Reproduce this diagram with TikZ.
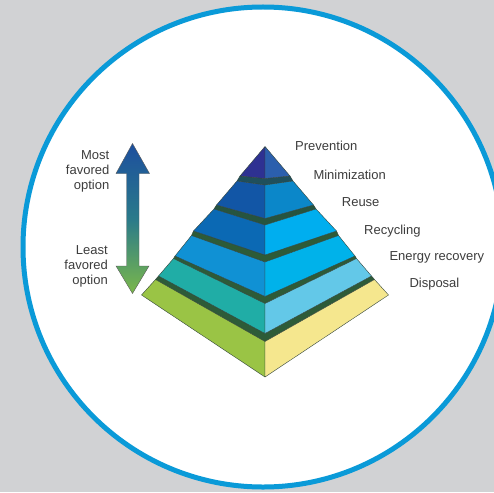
\documentclass[tikz,border=0pt]{standalone}
\usepackage{fontspec}
\setmainfont{Liberation Sans}
\definecolor{bggray}{HTML}{D1D2D4}
\definecolor{ringblue}{HTML}{0A9AD8}
\definecolor{txt}{HTML}{3D3D3D}
\definecolor{edge}{HTML}{34463C}
\definecolor{bandA}{HTML}{1F4F5C}
\definecolor{bandB}{HTML}{26543F}
\definecolor{bandC}{HTML}{2D5B38}
\definecolor{laL}{HTML}{2E3192}
\definecolor{laR}{HTML}{2B5FAD}
\definecolor{lbL}{HTML}{1256A6}
\definecolor{lbR}{HTML}{0B87C9}
\definecolor{lcL}{HTML}{0B69B4}
\definecolor{lcR}{HTML}{00AEEF}
\definecolor{ldL}{HTML}{1091D4}
\definecolor{ldR}{HTML}{00B2EA}
\definecolor{leL}{HTML}{20ADA6}
\definecolor{leR}{HTML}{63C8E8}
\definecolor{lfL}{HTML}{9AC445}
\definecolor{lfR}{HTML}{F5E78E}
\definecolor{arrTop}{HTML}{1D4F9E}
\definecolor{arrMid}{HTML}{2A7A8A}
\definecolor{arrBot}{HTML}{7BB84A}
% #1 top half width, #2 top corner y, #3 top centre y,
% #4 bottom half width, #5 bottom corner y, #6 bottom centre y, #7 left colour, #8 right colour
\newcommand\pyrlayer[8]{%
  \filldraw[face, fill=#7] ({265-#1},{#2}) -- (265,{#3}) -- (265,{#6}) -- ({265-#4},{#5}) -- cycle;
  \filldraw[face, fill=#8] ({265+#1},{#2}) -- (265,{#3}) -- (265,{#6}) -- ({265+#4},{#5}) -- cycle;
}
% band between layers: #1 upper bottom hw, #2 corner y, #3 centre y, #4 lower top hw, #5 corner y, #6 centre y, #7 colour
\newcommand\pyrband[7]{%
  \filldraw[face, fill=#7] ({265-#1},{#2}) -- (265,{#3}) -- ({265+#1},{#2}) -- ({265+#4},{#5}) -- (265,{#6}) -- ({265-#4},{#5}) -- cycle;
}
\begin{document}
\begin{tikzpicture}[x=1pt,y=-1pt,
  face/.style={draw=edge, line width=0.4pt, line join=round},
  lbl/.style={text=txt, font=\fontsize{13}{15}\selectfont, inner sep=0pt},
  ring/.style={draw=ringblue, line width=5pt, fill=white}]
\useasboundingbox (0,0) rectangle (494,492);
\fill[bggray] (0,0) rectangle (494,492);
\path[ring] (263,247) circle[radius=240];
% bands
\pyrband{25}{176}{178.5}{28}{181}{185}{bandA}
\pyrband{48.5}{205}{218.5}{51}{209}{225}{bandB}
\pyrband{71.5}{231}{255}{73.5}{235.5}{262}{bandC}
\pyrband{90}{256}{296.5}{91.5}{258.5}{303.5}{bandC}
\pyrband{106.5}{276}{333.5}{109.5}{279.5}{341.5}{bandC}
% layers
\pyrlayer{0}{146.5}{146.5}{25}{176}{178.5}{laL}{laR}
\pyrlayer{28}{181}{185}{48.5}{205}{218.5}{lbL}{lbR}
\pyrlayer{51}{209}{225}{71.5}{231}{255}{lcL}{lcR}
\pyrlayer{73.5}{235.5}{262}{90}{256}{296.5}{ldL}{ldR}
\pyrlayer{91.5}{258.5}{303.5}{106.5}{276}{333.5}{leL}{leR}
\pyrlayer{109.5}{279.5}{341.5}{123.5}{295}{377}{lfL}{lfR}
% double arrow
\path[draw=gray!70!black, line width=0.4pt, top color=arrTop, bottom color=arrBot, middle color=arrMid]
  (132.5,143.5) -- (149.5,173.5) -- (139,173.5) -- (139,266) -- (149,266) -- (132.5,293.5)
  -- (116,266) -- (126.5,266) -- (126.5,173.5) -- (116,173.5) -- cycle;
% left labels (base anchor = baseline of last line)
\node[lbl, align=right, anchor=base east] (most) at (109.5,189.3) {Most\\favored\\option};
\node[lbl, align=right, anchor=base east] (least) at (108,284.3) {Least\\favored\\option};
% right labels
\node[lbl, anchor=base west] (prev) at (295,150.7) {Prevention};
\node[lbl, anchor=base west] (mini) at (313.3,179.3) {Minimization};
\node[lbl, anchor=base west] (reuse) at (341.7,206) {Reuse};
\node[lbl, anchor=base west] (recy) at (364,234.3) {Recycling};
\node[lbl, anchor=base west] (energy) at (389.3,260) {Energy recovery};
\node[lbl, anchor=base west] (disp) at (409.3,287.7) {Disposal};
\end{tikzpicture}
\end{document}
